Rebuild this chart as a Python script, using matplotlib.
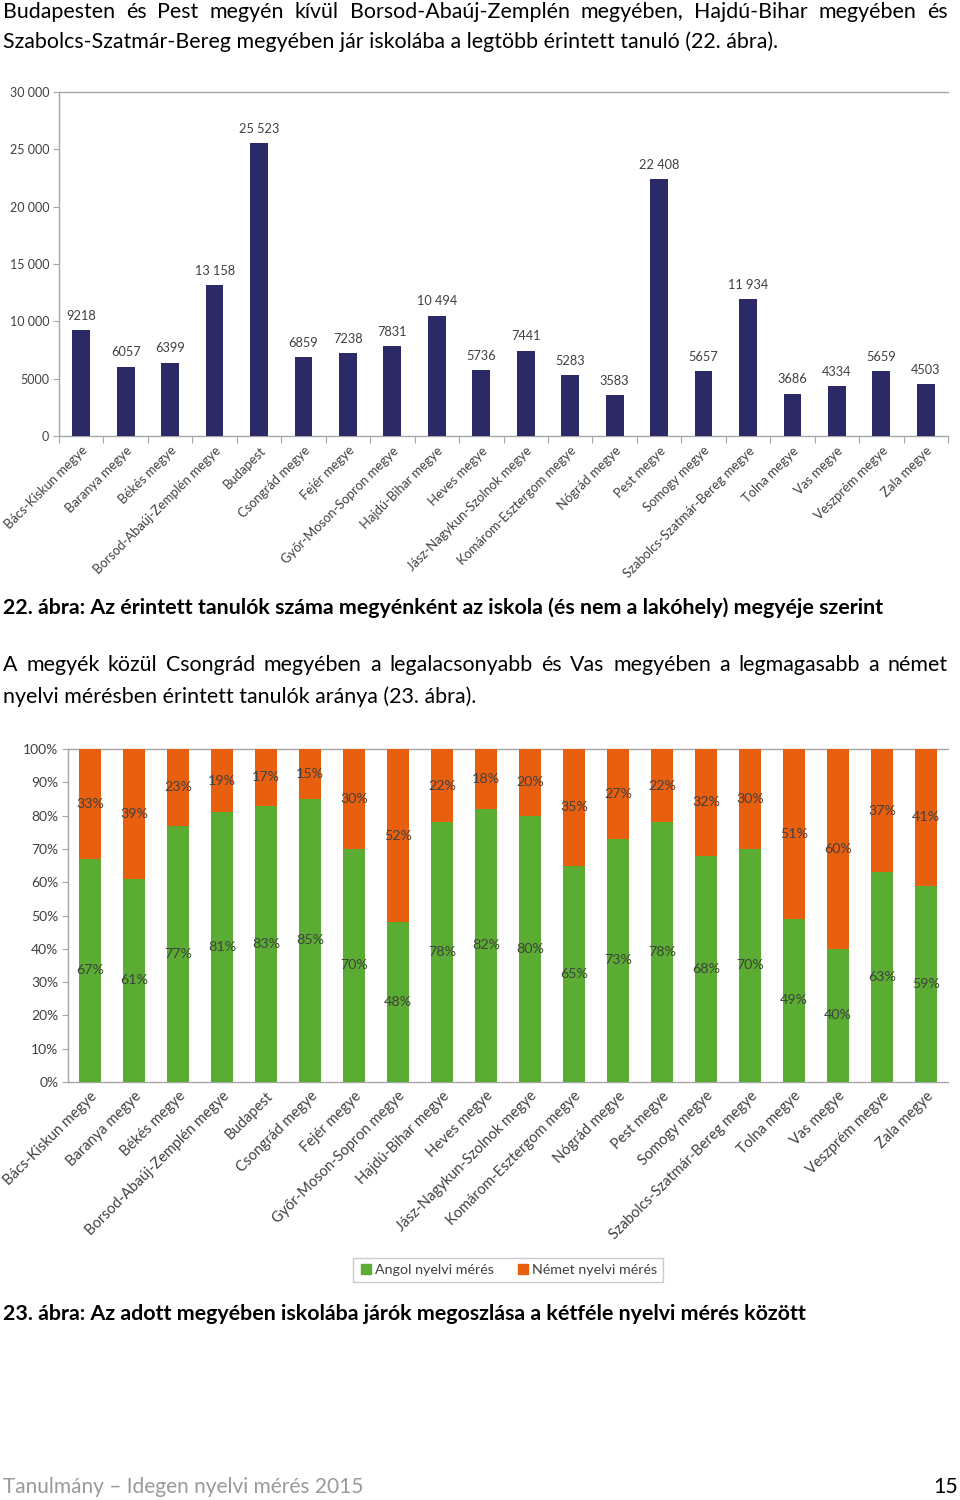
import matplotlib
matplotlib.use("Agg")
import matplotlib.pyplot as plt
from matplotlib.lines import Line2D

plt.rcParams['font.family'] = ['Lato', 'DejaVu Sans']

# ---------------- data ----------------
categories = ["Bács-Kiskun megye", "Baranya megye", "Békés megye",
              "Borsod-Abaúj-Zemplén megye", "Budapest", "Csongrád megye",
              "Fejér megye", "Győr-Moson-Sopron megye", "Hajdú-Bihar megye",
              "Heves megye", "Jász-Nagykun-Szolnok megye", "Komárom-Esztergom megye",
              "Nógrád megye", "Pest megye", "Somogy megye",
              "Szabolcs-Szatmár-Bereg megye", "Tolna megye", "Vas megye",
              "Veszprém megye", "Zala megye"]
students = [9218, 6057, 6399, 13158, 25523, 6859, 7238, 7831, 10494, 5736,
            7441, 5283, 3583, 22408, 5657, 11934, 3686, 4334, 5659, 4503]
angol = [67, 61, 77, 81, 83, 85, 70, 48, 78, 82, 80, 65, 73, 78, 68, 70, 49, 40, 63, 59]
nemet = [33, 39, 23, 19, 17, 15, 30, 52, 22, 18, 20, 35, 27, 22, 32, 30, 51, 60, 37, 41]
y1_ticks = [0, 5000, 10000, 15000, 20000, 25000, 30000]
y2_ticks = [0, 10, 20, 30, 40, 50, 60, 70, 80, 90, 100]
series_names = ["Angol nyelvi mérés", "Német nyelvi mérés"]

para1 = ["Budapesten és Pest megyén kívül Borsod-Abaúj-Zemplén megyében, Hajdú-Bihar megyében és",
         "Szabolcs-Szatmár-Bereg megyében jár iskolába a legtöbb érintett tanuló (22. ábra)."]
caption1 = "22. ábra: Az érintett tanulók száma megyénként az iskola (és nem a lakóhely) megyéje szerint"
para2 = ["A megyék közül Csongrád megyében a legalacsonyabb és Vas megyében a legmagasabb a német",
         "nyelvi mérésben érintett tanulók aránya (23. ábra)."]
caption2 = "23. ábra: Az adott megyében iskolába járók megoszlása a kétféle nyelvi mérés között"
footer = "Tanulmány – Idegen nyelvi mérés 2015"
page_no = "15"

NAVY = "#2b2966"
GREEN = "#5aad32"
ORANGE = "#e8600f"
AXC = "#a6a6a6"
TXT = "#404040"

W, H = 960, 1500
fig = plt.figure(figsize=(9.6, 15), dpi=100)
renderer = fig.canvas.get_renderer()


def fx(px):
    return px / W


def fy(py):
    return 1 - py / H


def fmt_thousands(v):
    return f"{v:,}".replace(",", " ") if v >= 10000 else str(v)


def justify(text, ypx, x0, x1, **kw):
    words = text.split()
    objs, widths = [], []
    for w in words:
        t = fig.text(0, fy(ypx), w, va='center', ha='left', **kw)
        widths.append(t.get_window_extent(renderer).width)
        objs.append(t)
    gap = (x1 - x0 - sum(widths)) / (len(words) - 1)
    x = x0
    for t, wd in zip(objs, widths):
        t.set_x(fx(x))
        x += wd + gap


BODY = 15.4
justify(para1[0], 12, 3, 948, fontsize=BODY, color='black')
fig.text(fx(3), fy(42), para1[1], fontsize=BODY, va='center', ha='left')
fig.text(fx(3), fy(608), caption1, fontsize=BODY, va='center', ha='left', fontweight='bold')
justify(para2[0], 665, 3, 948, fontsize=BODY, color='black')
fig.text(fx(3), fy(697), para2[1], fontsize=BODY, va='center', ha='left')
fig.text(fx(3), fy(1314), caption2, fontsize=BODY, va='center', ha='left', fontweight='bold')
fig.text(fx(3), fy(1487), footer, fontsize=15, va='center', ha='left', color='#9a9a9a')
fig.text(fx(958), fy(1487), page_no, fontsize=BODY, va='center', ha='right', color='black')

x = list(range(len(categories)))

# ---------------- chart 1 ----------------
ax1 = fig.add_axes([fx(59), fy(436), fx(948 - 59), (436 - 92) / H])
ax1.bar(x, students, width=0.4, color=NAVY, zorder=3)
ax1.set_xlim(-0.5, len(categories) - 0.5)
ax1.set_ylim(0, 30000)
ax1.set_yticks(y1_ticks)
ax1.set_yticklabels([fmt_thousands(v) for v in y1_ticks], fontsize=9, color=TXT)
ax1.set_xticks(x)
ax1.set_xticklabels(categories, rotation=45, ha='right', rotation_mode='anchor',
                    fontsize=9.4, color=TXT)
ax1.set_xticks([i - 0.5 for i in range(len(categories) + 1)], minor=True)
ax1.tick_params(axis='x', which='major', length=0, pad=6)
ax1.tick_params(axis='x', which='minor', length=5, color=AXC, width=0.8)
ax1.tick_params(axis='y', length=4, color=AXC, width=0.8, pad=3)
for s in ['left', 'bottom', 'top']:
    ax1.spines[s].set_color(AXC)
    ax1.spines[s].set_linewidth(1.0)
ax1.spines['right'].set_visible(False)
for xi, v in zip(x, students):
    ax1.annotate(fmt_thousands(v), (xi, v), xytext=(0, 6), textcoords='offset points',
                 ha='center', va='bottom', fontsize=9.2, color=TXT)

# ---------------- chart 2 ----------------
ax2 = fig.add_axes([fx(68), fy(1082), fx(948 - 68), (1082 - 749) / H])
ax2.bar(x, angol, width=0.5, color=GREEN, zorder=3, label=series_names[0])
ax2.bar(x, nemet, width=0.5, bottom=angol, color=ORANGE, zorder=3, label=series_names[1])
ax2.set_xlim(-0.5, len(categories) - 0.5)
ax2.set_ylim(0, 100)
ax2.set_yticks(y2_ticks)
ax2.set_yticklabels([f"{v}%" for v in y2_ticks], fontsize=10, color=TXT)
ax2.set_xticks(x)
ax2.set_xticklabels(categories, rotation=45, ha='right', rotation_mode='anchor',
                    fontsize=10.5, color=TXT)
ax2.tick_params(axis='x', which='major', length=0, pad=5)
ax2.tick_params(axis='y', length=4, color=AXC, width=0.8, pad=3)
for s in ['left', 'bottom', 'top']:
    ax2.spines[s].set_color(AXC)
    ax2.spines[s].set_linewidth(1.0)
ax2.spines['right'].set_visible(False)
for xi, a, n in zip(x, angol, nemet):
    ax2.text(xi, a / 2, f"{a}%", ha='center', va='center', fontsize=10.3, color=TXT, zorder=4)
    ax2.text(xi, a + n / 2, f"{n}%", ha='center', va='center', fontsize=10.3, color=TXT, zorder=4)

handles = [Line2D([], [], marker='s', linestyle='none', color=GREEN, markersize=7),
           Line2D([], [], marker='s', linestyle='none', color=ORANGE, markersize=7)]
leg = fig.legend(handles, series_names, loc='center', bbox_to_anchor=(fx(508), fy(1270)),
                 ncol=2, fontsize=10.3, frameon=True, fancybox=False, edgecolor='#bfbfbf',
                 handletextpad=0.1, columnspacing=1.6, handlelength=1.0, borderpad=0.4)
for t in leg.get_texts():
    t.set_color(TXT)

fig.savefig("out.png", dpi=100)
